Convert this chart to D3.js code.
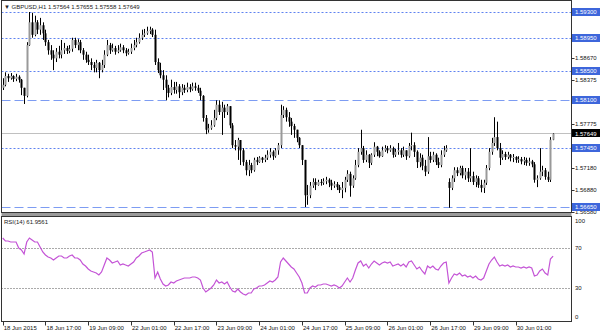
<!DOCTYPE html>
<html>
<head>
<meta charset="utf-8">
<script src="https://cdn.jsdelivr.net/npm/d3@7"></script>
<style>
  body { margin: 0; background: #fff; }
  svg { display: block; font-family: "Liberation Sans", Arial, sans-serif; }
</style>
</head>
<body>
<div id="chart"></div>
<script>
// GBPUSD H1, 18 Jun - 30 Jun 2015
const symbol = "GBPUSD,H1"
const closes = [
  1.5831,1.5843,1.5840,1.5843,1.5839,1.5842,1.5838,1.5827,1.5816,1.5885,
  1.5916,1.5899,1.5916,1.5906,1.5912,1.5901,1.5889,1.5878,1.5872,1.5867,
  1.5876,1.5872,1.5878,1.5881,1.5877,1.5880,1.5892,1.5885,1.5889,1.5878,
  1.5872,1.5865,1.5862,1.5858,1.5854,1.5861,1.5851,1.5858,1.5872,1.5885,
  1.5878,1.5881,1.5876,1.5878,1.5882,1.5878,1.5874,1.5876,1.5881,1.5885,
  1.5889,1.5895,1.5899,1.5901,1.5904,1.5906,1.5899,1.5862,1.5851,1.5844,
  1.5838,1.5827,1.5820,1.5828,1.5824,1.5829,1.5821,1.5827,1.5824,1.5828,
  1.5825,1.5829,1.5827,1.5823,1.5816,1.5786,1.5770,1.5772,1.5776,1.5786,
  1.5804,1.5794,1.5800,1.5794,1.5802,1.5776,1.5749,1.5747,1.5756,1.5742,
  1.5726,1.5715,1.5722,1.5715,1.5729,1.5726,1.5732,1.5729,1.5732,1.5736,
  1.5740,1.5734,1.5742,1.5749,1.5790,1.5797,1.5787,1.5781,1.5775,1.5770,
  1.5759,1.5749,1.5729,1.5681,1.5681,1.5694,1.5699,1.5695,1.5699,1.5698,
  1.5700,1.5702,1.5698,1.5694,1.5696,1.5692,1.5688,1.5691,1.5702,1.5710,
  1.5694,1.5704,1.5722,1.5740,1.5745,1.5729,1.5736,1.5725,1.5736,1.5747,
  1.5740,1.5734,1.5742,1.5745,1.5742,1.5745,1.5736,1.5740,1.5742,1.5736,
  1.5742,1.5734,1.5748,1.5749,1.5740,1.5726,1.5732,1.5721,1.5713,1.5734,
  1.5729,1.5736,1.5726,1.5722,1.5736,1.5742,1.5745,1.5691,1.5704,1.5715,
  1.5711,1.5718,1.5708,1.5713,1.5704,1.5707,1.5699,1.5704,1.5695,1.5691,
  1.5698,1.5718,1.5740,1.5752,1.5760,1.5745,1.5732,1.5737,1.5733,1.5736,
  1.5732,1.5733,1.5729,1.5730,1.5727,1.5729,1.5725,1.5727,1.5723,1.5702,
  1.5704,1.5713,1.5715,1.5706,1.5702,1.57564,1.57649
]
const highs = [
  1.5840,1.5848,1.5846,1.5847,1.5844,1.5846,1.5844,1.5839,1.5827,1.5889,
  1.5930,1.5929,1.5925,1.5919,1.5922,1.5916,1.5906,1.5892,1.5885,1.5878,
  1.5881,1.5884,1.5892,1.5888,1.5884,1.5885,1.5895,1.5895,1.5893,1.5892,
  1.5881,1.5876,1.5872,1.5867,1.5862,1.5865,1.5862,1.5865,1.5878,1.5892,
  1.5888,1.5887,1.5884,1.5885,1.5887,1.5885,1.5881,1.5880,1.5887,1.5892,
  1.5895,1.5901,1.5906,1.5907,1.5910,1.5910,1.5908,1.5906,1.5867,1.5861,
  1.5851,1.5844,1.5831,1.5838,1.5835,1.5835,1.5832,1.5832,1.5831,1.5834,
  1.5832,1.5834,1.5834,1.5831,1.5827,1.5817,1.5790,1.5778,1.5783,1.5797,
  1.5810,1.5810,1.5808,1.5804,1.5805,1.5797,1.5779,1.5756,1.5759,1.5753,
  1.5745,1.5729,1.5729,1.5725,1.5732,1.5733,1.5734,1.5733,1.5736,1.5742,
  1.5745,1.5742,1.5745,1.5752,1.5804,1.5802,1.5800,1.5794,1.5786,1.5778,
  1.5770,1.5760,1.5749,1.5729,1.5695,1.5699,1.5704,1.5704,1.5702,1.5703,
  1.5704,1.5706,1.5704,1.5702,1.5700,1.5699,1.5695,1.5699,1.5706,1.5715,
  1.5713,1.5708,1.5729,1.5745,1.5770,1.5748,1.5742,1.5737,1.5738,1.5753,
  1.5748,1.5742,1.5747,1.5749,1.5748,1.5749,1.5747,1.5744,1.5752,1.5745,
  1.5747,1.5742,1.5752,1.5766,1.5753,1.5742,1.5738,1.5736,1.5729,1.5760,
  1.5740,1.5740,1.5738,1.5732,1.5742,1.5748,1.5749,1.5704,1.5708,1.5719,
  1.5719,1.5721,1.5721,1.5718,1.5718,1.5745,1.5713,1.5708,1.5707,1.5702,
  1.5702,1.5722,1.5745,1.5759,1.5787,1.5781,1.5752,1.5742,1.5740,1.5740,
  1.5737,1.5737,1.5734,1.5734,1.5733,1.5733,1.5732,1.5732,1.5729,1.5726,
  1.5708,1.5745,1.5721,1.5718,1.5713,1.5760,1.57655
]
const lows = [
  1.5824,1.5829,1.5835,1.5838,1.5835,1.5836,1.5834,1.5817,1.5805,1.5814,
  1.5884,1.5895,1.5897,1.5900,1.5899,1.5892,1.5884,1.5872,1.5865,1.5851,
  1.5862,1.5867,1.5867,1.5873,1.5873,1.5874,1.5876,1.5881,1.5878,1.5874,
  1.5865,1.5861,1.5858,1.5851,1.5848,1.5848,1.5840,1.5848,1.5854,1.5870,
  1.5873,1.5876,1.5872,1.5874,1.5876,1.5874,1.5870,1.5872,1.5873,1.5878,
  1.5882,1.5887,1.5892,1.5896,1.5899,1.5900,1.5896,1.5858,1.5847,1.5840,
  1.5824,1.5810,1.5814,1.5817,1.5819,1.5819,1.5813,1.5817,1.5820,1.5821,
  1.5821,1.5823,1.5823,1.5820,1.5810,1.5781,1.5764,1.5766,1.5770,1.5774,
  1.5783,1.5790,1.5763,1.5786,1.5790,1.5772,1.5745,1.5742,1.5729,1.5722,
  1.5721,1.5708,1.5707,1.5711,1.5713,1.5722,1.5725,1.5725,1.5726,1.5729,
  1.5732,1.5729,1.5732,1.5736,1.5745,1.5786,1.5781,1.5774,1.5763,1.5759,
  1.5753,1.5745,1.5722,1.5665,1.5668,1.5677,1.5691,1.5688,1.5694,1.5694,
  1.5695,1.5696,1.5692,1.5688,1.5691,1.5688,1.5684,1.5677,1.5685,1.5699,
  1.5679,1.5691,1.5702,1.5719,1.5736,1.5725,1.5726,1.5718,1.5722,1.5733,
  1.5734,1.5732,1.5733,1.5740,1.5738,1.5740,1.5732,1.5733,1.5736,1.5732,
  1.5733,1.5729,1.5732,1.5742,1.5733,1.5718,1.5719,1.5715,1.5707,1.5710,
  1.5725,1.5726,1.5722,1.5718,1.5719,1.5733,1.5740,1.5664,1.5688,1.5699,
  1.5707,1.5708,1.5704,1.5702,1.5699,1.5699,1.5695,1.5692,1.5691,1.5685,
  1.5684,1.5695,1.5715,1.5736,1.5748,1.5742,1.5722,1.5729,1.5729,1.5730,
  1.5727,1.5726,1.5725,1.5725,1.5723,1.5722,1.5721,1.5721,1.5719,1.5698,
  1.5692,1.5702,1.5707,1.5702,1.5699,1.5699,1.57558
]
// opens follow the previous close, except these bars
const firstOpen = 1.5827
const gapOpens = { 167: 1.5699, 206: 1.57564 }

const rsiValues = [
  80,77,77,76,76,76,70,68,64,76,
  80,78,76,76,71,66,63,61,60,58,
  60,62,62,60,60,62,63,60,60,58,
  54,52,49,47,46,45,43,46,53,60,
  58,55,56,57,53,54,53,52,54,56,
  60,62,65,66,67,68,66,40,46,39,
  34,32,33,36,35,37,38,39,40,40,
  40,41,41,40,38,30,26,28,30,33,
  38,35,36,34,36,31,27,26,29,26,
  24,23,25,25,29,30,32,32,33,35,
  37,36,38,41,56,60,57,54,51,49,
  45,41,35,25,25,30,32,31,33,33,
  34,34,33,32,33,32,30,32,36,40,
  36,40,48,55,57,52,54,50,54,57,
  55,53,55,56,55,56,52,53,54,52,
  54,51,56,57,53,49,51,47,44,52,
  50,52,49,48,52,55,56,35,40,44,
  43,45,42,43,41,42,40,42,39,38,
  40,47,54,58,61,56,52,53,52,53,
  51,52,51,51,50,51,50,51,50,42,
  43,47,49,45,43,59,61.9561
]

const timeLabels = ["18 Jun 2015", "18 Jun 17:00", "19 Jun 09:00", "22 Jun 01:00", "22 Jun 17:00",
  "23 Jun 09:00", "24 Jun 01:00", "24 Jun 17:00", "25 Jun 09:00", "26 Jun 01:00",
  "26 Jun 17:00", "29 Jun 09:00", "30 Jun 01:00"]
const barsPerLabel = 16

const dottedLevels = [1.5930, 1.5895, 1.5850, 1.5745]
const dashedLevels = [1.5810, 1.5665]
const priceTicks = [1.5867, 1.58375, 1.57775, 1.5718, 1.5688, 1.5658]
const rsiLevels = [70, 30]
const rsiTicks = [100, 70, 30, 0]

const width = 600, height = 333
const left = 1.5, right = 571.5
const mainTop = 0.5, mainBottom = 212.5
const rsiTop = 216.5, rsiBottom = 321.5

const opens = closes.map((c, i) => gapOpens[i] !== undefined ? gapOpens[i] : (i === 0 ? firstOpen : closes[i - 1]))
const bars = closes.map((c, i) => ({ i, o: opens[i], h: highs[i], l: lows[i], c }))
const last = bars[bars.length - 1]

const fmt = d3.format(".5f")

const svg = d3.select("#chart").append("svg")
  .attr("width", width).attr("height", height)
  .attr("viewBox", [0, 0, width, height])

const xScale = d3.scaleLinear().domain([0, closes.length - 1]).range([2.7, 553.1])
const yScale = d3.scaleLinear().domain([1.5665, 1.5930]).range([207, 12])
const rsiScale = d3.scaleLinear().domain([0, 100]).range([318, 218])

const crisp = v => Math.round(v) + 0.5

// clip areas for the two panels
const defs = svg.append("defs")
defs.append("clipPath").attr("id", "clip-main").append("rect")
  .attr("x", left).attr("y", mainTop).attr("width", right - left).attr("height", mainBottom - mainTop)
defs.append("clipPath").attr("id", "clip-rsi").append("rect")
  .attr("x", left).attr("y", rsiTop).attr("width", right - left).attr("height", rsiBottom - rsiTop)

const main = svg.append("g").attr("clip-path", "url(#clip-main)")

//1. horizontal levels
const hline = (g, y, color, dash) => g.append("line")
  .attr("x1", left).attr("x2", right)
  .attr("y1", crisp(y)).attr("y2", crisp(y))
  .attr("stroke", color).attr("stroke-width", 1)
  .attr("stroke-dasharray", dash)

dottedLevels.forEach(p => hline(main, yScale(p), "#5f82f0", "2,2"))
dashedLevels.forEach(p => hline(main, yScale(p), "#7d9cf2", "9,4"))
hline(main, yScale(last.c), "#c0c0c0", null)

//2. candles
const candle = main.selectAll("g.bar").data(bars).join("g").attr("class", "bar")
candle.append("line")
  .attr("x1", d => crisp(xScale(d.i))).attr("x2", d => crisp(xScale(d.i)))
  .attr("y1", d => yScale(Math.max(d.h, d.o, d.c)))
  .attr("y2", d => yScale(Math.min(d.l, d.o, d.c)))
  .attr("stroke", "#000").attr("stroke-width", 1)
candle.append("rect")
  .attr("x", d => Math.round(xScale(d.i)) - 0.5)
  .attr("width", 2)
  .attr("y", d => yScale(Math.max(d.o, d.c)))
  .attr("height", d => Math.max(1, yScale(Math.min(d.o, d.c)) - yScale(Math.max(d.o, d.c))))
  .attr("fill", d => d.c >= d.o ? "#999" : "#000")

//3. rsi panel
const rsiG = svg.append("g").attr("clip-path", "url(#clip-rsi)")
rsiLevels.forEach(v => hline(rsiG, rsiScale(v), "#555", "1,2"))
rsiG.append("path")
  .datum(rsiValues)
  .attr("fill", "none")
  .attr("stroke", "#c454d6")
  .attr("stroke-width", 1.2)
  .attr("d", d3.line().x((d, i) => xScale(i)).y(d => rsiScale(d)))

//4. frames and separator
svg.append("rect").attr("x", left).attr("y", 213).attr("width", right - left).attr("height", 3).attr("fill", "#9a9a9a")
svg.append("rect").attr("x", left).attr("y", mainTop).attr("width", right - left).attr("height", mainBottom - mainTop)
  .attr("fill", "none").attr("stroke", "#333")
svg.append("rect").attr("x", left).attr("y", rsiTop).attr("width", right - left).attr("height", rsiBottom - rsiTop)
  .attr("fill", "none").attr("stroke", "#333")

//5. titles
svg.append("text").attr("x", 4).attr("y", 9).attr("font-size", 6).attr("fill", "#222")
  .text(`\u25BC ${symbol}  ${fmt(last.o)} ${fmt(last.h)} ${fmt(last.l)} ${fmt(last.c)}`)
svg.append("text").attr("x", 4).attr("y", 223.5).attr("font-size", 6).attr("fill", "#222")
  .text(`RSI(14) ${rsiValues[rsiValues.length - 1].toFixed(4)}`)

//6. right price axis
const axisR = svg.append("g").attr("font-size", 6)
priceTicks.forEach(p => {
  const y = yScale(p)
  axisR.append("line").attr("x1", right).attr("x2", right + 3).attr("y1", crisp(y)).attr("y2", crisp(y)).attr("stroke", "#333")
  axisR.append("text").attr("x", 575).attr("y", y).attr("dy", "0.35em").attr("fill", "#111").text(fmt(p))
})
const boxLabel = (p, bg) => {
  const y = yScale(p)
  axisR.append("rect").attr("x", right + 0.5).attr("y", Math.round(y) - 4).attr("width", 600 - right).attr("height", 8).attr("fill", bg)
  axisR.append("text").attr("x", 575).attr("y", y).attr("dy", "0.35em").attr("fill", "#fff").text(fmt(p))
}
dottedLevels.concat(dashedLevels).forEach(p => boxLabel(p, "#3d66db"))
boxLabel(last.c, "#000")

rsiTicks.forEach(v => {
  let y = rsiScale(v)
  if (v === 100) y += 3
  if (v === 0) y -= 1
  axisR.append("text").attr("x", 575).attr("y", y).attr("dy", "0.35em").attr("fill", "#111").text(v)
})

//7. time axis
const axisB = svg.append("g").attr("font-size", 6)
timeLabels.forEach((t, k) => {
  const x = xScale(k * barsPerLabel)
  axisB.append("line").attr("x1", crisp(x)).attr("x2", crisp(x)).attr("y1", rsiBottom).attr("y2", rsiBottom + 4).attr("stroke", "#333")
  axisB.append("text").attr("x", x + 1).attr("y", 329.5).attr("fill", "#111").text(t)
})
</script>
</body>
</html>
